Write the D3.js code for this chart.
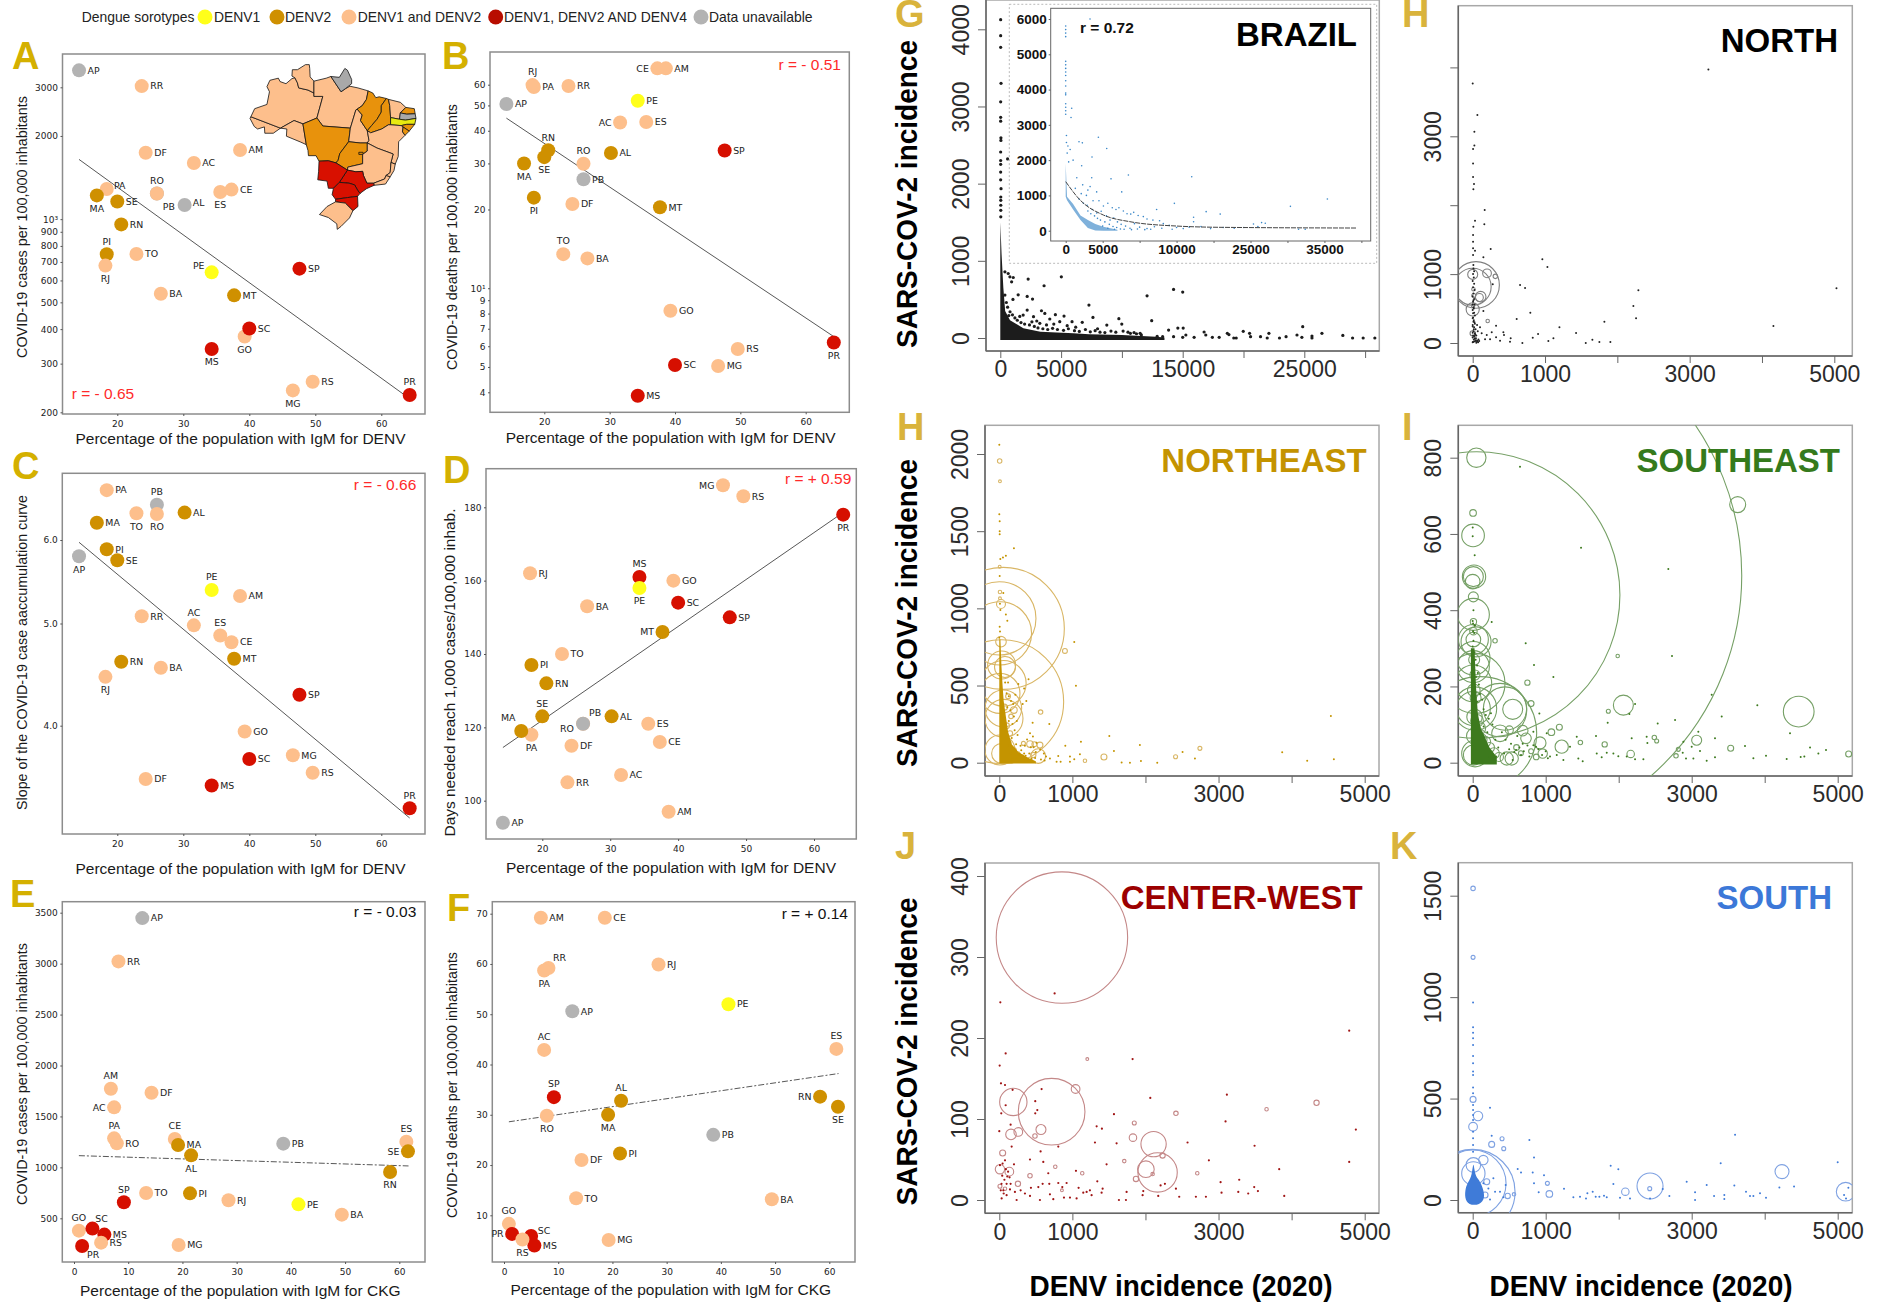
<!DOCTYPE html>
<html lang="en">
<head>
<meta charset="UTF-8">
<title>Dengue and COVID-19 in Brazil</title>
<script src="https://d3js.org/d3.v7.min.js"></script>
<style>
  html, body { margin: 0; background: #fff; }
  svg { display: block; }
  text { font-family: "Liberation Sans", Arial, sans-serif; }
  .mpl text { font-family: "DejaVu Sans", sans-serif; font-size: 9px; fill: #222; }
  .mpl text.state { font-size: 9.4px; }
  .rplot text { font-size: 23px; fill: #2b2b2b; }
  .inset text { font-size: 13.5px; font-weight: bold; fill: #111; }
</style>
</head>
<body>
<div id="vis"></div>
<script>
// ---- state level values, all arrays follow the order of stateCodes
const stateCodes = ["AP","RR","DF","AC","AM","PA","MA","SE","PB","RO","ES","CE","AL","RN","PI","RJ","TO","BA","PE","MT","SP","GO","SC","MS","RS","MG","PR"];
const sorotypes  = ["na","both","both","both","both","both","d2","d2","na","both","both","both","d2","d2","d2","both","both","both","d1","d2","d124","both","d124","d124","both","both","d124"];
const igmDenv    = [14.2,23.7,24.3,31.6,38.6,18.4,16.9,20,26,26,35.6,37.3,30.2,20.6,18.4,18.2,22.9,26.6,34.3,37.7,47.6,39.3,40,34.3,49.6,46.6,64.3];
const igmCkgE    = [12.6,8.2,14.3,7.4,6.8,7.4,19.2,61.6,38.6,7.9,61.3,18.6,21.6,58.3,21.4,28.5,13.3,49.4,41.4,37.7,9.2,0.9,3.4,5.6,5,19.3,1.5];
const igmCkgF    = [12.6,8.2,14.3,7.4,6.8,7.4,19.2,61.6,38.6,7.9,61.3,18.6,21.6,58.3,21.4,28.5,13.3,49.4,41.4,37.7,9.2,0.9,5,5.6,3.4,19.3,1.5];
const casesDenv  = [3455,3030,1739,1596,1780,1285,1219,1159,1239,1239,1254,1279,1125,957,746,679,748,537,642,530,662,376,402,339,258,240,231];
const deathsDenv = [50.6,59.3,21,43,69.3,58.8,30,31.7,26.1,29.9,43.2,69.3,32.9,33.7,22.2,59.8,13.5,13,52.1,20.4,33.6,8.2,5.09,3.88,5.86,5.04,6.2];
const slopeDenv  = [5.79,5.08,3.56,4.98,5.31,6.69,6.23,5.74,6.48,6.35,4.87,4.80,6.37,4.60,5.88,4.45,6.36,4.54,5.38,4.63,4.28,3.95,3.72,3.51,3.61,3.75,3.34];
const daysDenv   = [94,105,115,107,97,118,119,123,121,121,121,116,123,132,137,162,140,153,158,146,150,160,154,161,183,186,178];
const casesCkg   = [3447,3022,1733,1589,1772,1285,1220,1157,1233,1236,1252,1279,1118,955,745,677,749,536,637,null,657,379,399,340,261,238,228];
const deathsCkg  = [50.6,59.2,21,42.9,69.2,58.7,30,31.6,26,29.8,43.1,69.2,32.8,33.6,22.3,59.9,13.4,13.2,52,null,33.5,8.3,5.9,4,5.2,5.1,6.3];

// trend lines as [x, y] read at both ends
const trendA = [[14.2,1645],[64.3,224]];
const trendB = [[14.2,44.7],[64.3,6.53]];
const trendC = [[14.2,5.97],[64.3,3.27]];
const trendD = [[14.2,114.5],[64.3,178.6]];
const trendE = [[0.9,1115],[61.7,1014]];
const trendF = [[0.9,28.6],[61.7,38.2]];

const legendItems = [["d1","DENV1"],["d2","DENV2"],["both","DENV1 and DENV2"],["d124","DENV1, DENV2 AND DENV4"],["na","Data unavailable"]];

// ---- map of Brazil, rough state outlines in lon/lat
const mapClass = {AM:"both",RR:"both",AP:"na",PA:"both",AC:"both",RO:"both",MT:"d2map",TO:"both",MA:"d2map",PI:"d2map",CE:"both",RN:"d2map",PB:"na",PE:"d1",AL:"d2map",SE:"d2map",BA:"both",GO:"d2map",DF:"d2map",MG:"both",ES:"both",RJ:"both",SP:"d124",MS:"d124",PR:"d124",SC:"d124",RS:"both"};
const mapOutlines = {
  AC:[[-73.8,-7.1],[-66.8,-9.8],[-68.5,-11],[-70.5,-11],[-70.6,-9.5],[-72.2,-10],[-73,-9.4],[-74,-7.5]],
  AM:[[-73.8,-7.1],[-72.9,-5.2],[-70,-4.2],[-69.4,-1.2],[-70,0],[-69.3,1.5],[-67.3,2],[-66.9,1.2],[-65.5,0.7],[-64.1,1.9],[-63.4,2.1],[-62.8,0.9],[-62.5,-0.3],[-60.3,-0.8],[-58.9,-1.5],[-58.9,-2.3],[-56.8,-2.3],[-58.2,-7.4],[-61.5,-8.8],[-63.6,-8],[-66.8,-9.8]],
  RO:[[-66.8,-9.8],[-63.6,-8],[-61.5,-8.8],[-60.7,-13.7],[-62,-13.1],[-65.4,-11.7],[-65.3,-10]],
  RR:[[-63.4,2.1],[-64.1,2.5],[-64,4],[-62.8,4],[-60.9,5.2],[-60,5.2],[-59.9,4.3],[-59.8,2.3],[-58.9,1.3],[-58.9,-1.5],[-60.3,-0.8],[-62.5,-0.3],[-62.8,0.9]],
  PA:[[-58.9,-2.3],[-56.8,-2.3],[-58.2,-7.4],[-56.8,-9.3],[-50.3,-9.8],[-49,-5.5],[-48.7,-5.3],[-47.5,-4.5],[-46.5,-3],[-46.1,-1],[-48.5,-0.3],[-50.4,0.1],[-51.5,-0.5],[-52.5,-1.2],[-54.9,2.4],[-56,2],[-58.9,1.3]],
  AP:[[-54.9,2.4],[-52.9,2.2],[-51.6,4.3],[-51,3.9],[-50,1.7],[-50,0.7],[-51.5,-0.5],[-52.5,-1.2]],
  MT:[[-58.2,-7.4],[-56.8,-9.3],[-50.3,-9.8],[-50.7,-13],[-52.8,-15.8],[-53.2,-17.4],[-53.7,-18],[-55.5,-17.5],[-57.7,-17.6],[-58.4,-16.3],[-60.2,-16.3],[-60.3,-15.1],[-60.7,-13.7],[-61.5,-8.8]],
  TO:[[-50.3,-9.8],[-49,-5.5],[-48.7,-5.3],[-47.5,-6.7],[-47.9,-8],[-46.3,-10.4],[-45.9,-12.7],[-46.3,-13.3],[-48,-13.3],[-50.7,-13]],
  MA:[[-46.1,-1],[-46.5,-3],[-47.5,-4.5],[-48.7,-5.3],[-47.5,-6.7],[-47.9,-8],[-46.3,-10.4],[-45.3,-9.2],[-44,-7.7],[-43,-6],[-43,-4.5],[-41.8,-2.8],[-43.5,-2.4],[-44.3,-2.6],[-45,-1.5]],
  PI:[[-41.8,-2.8],[-41.3,-3],[-41,-4.5],[-40.8,-7.3],[-40.8,-9],[-41.3,-9],[-42.9,-10],[-45.5,-10.9],[-46.3,-10.4],[-45.3,-9.2],[-44,-7.7],[-43,-6],[-43,-4.5]],
  CE:[[-41.3,-3],[-38.5,-3.7],[-37.2,-4.9],[-38.5,-6.2],[-38.7,-7.7],[-40.8,-7.3],[-41,-4.5]],
  RN:[[-37.2,-4.9],[-35.2,-5.2],[-35,-6.4],[-37,-6.5],[-38.5,-6.2]],
  PB:[[-38.5,-6.2],[-37,-6.5],[-35,-6.4],[-34.8,-7.5],[-37.3,-7.9],[-38.7,-7.7]],
  PE:[[-40.8,-7.3],[-38.7,-7.7],[-37.3,-7.9],[-34.8,-7.5],[-35.1,-8.9],[-37,-8.9],[-38.3,-9.2],[-40.8,-9]],
  AL:[[-35.1,-8.9],[-36.4,-10.5],[-37.9,-9.5],[-38.3,-9.2],[-37,-8.9]],
  SE:[[-36.4,-10.5],[-37.4,-11.5],[-38,-10.7],[-37.9,-9.5]],
  BA:[[-45.5,-10.9],[-42.9,-10],[-41.3,-9],[-40.8,-9],[-38.3,-9.2],[-37.9,-9.5],[-38,-10.7],[-37.4,-11.5],[-38.9,-13],[-39,-16.5],[-39.7,-18.3],[-40.7,-17.9],[-40.2,-15.9],[-44,-14.5],[-46.3,-13.3],[-45.9,-12.7],[-46.3,-10.4]],
  GO:[[-46.3,-13.3],[-48,-13.3],[-50.7,-13],[-52.8,-15.8],[-53.2,-17.4],[-53.7,-18],[-51,-19.7],[-50.9,-19],[-47.4,-18.2],[-47.4,-16],[-46.3,-15.2]],
  DF:[[-48.3,-15.5],[-47.3,-15.5],[-47.3,-16],[-48.3,-16]],
  MG:[[-44,-14.5],[-40.2,-15.9],[-40.7,-17.9],[-40.9,-20.3],[-41.9,-21],[-42.2,-21.8],[-44.8,-22.8],[-46.4,-22.8],[-47.2,-21],[-47.4,-20],[-49,-20.1],[-51,-19.7],[-50.9,-19],[-47.4,-18.2],[-47.4,-16],[-46.3,-15.2],[-46.3,-13.3]],
  ES:[[-40.7,-17.9],[-39.7,-18.3],[-40,-19.8],[-40.9,-21.3],[-41.9,-21],[-40.9,-20.3]],
  RJ:[[-41.9,-21],[-40.9,-21.3],[-42,-23],[-44.7,-23.3],[-44.8,-22.8],[-42.2,-21.8]],
  SP:[[-51,-19.7],[-49,-20.1],[-47.4,-20],[-47.2,-21],[-46.4,-22.8],[-44.8,-22.8],[-44.7,-23.3],[-46.5,-24.1],[-48,-25.2],[-48.5,-24.6],[-49.3,-23.2],[-50.6,-22.8],[-52.9,-22.6]],
  MS:[[-53.7,-18],[-51,-19.7],[-52.9,-22.6],[-54.3,-24],[-55.5,-24],[-55.8,-22.3],[-58,-22],[-57.8,-20],[-57.7,-17.6],[-55.5,-17.5]],
  PR:[[-52.9,-22.6],[-50.6,-22.8],[-49.3,-23.2],[-48.5,-24.6],[-48,-25.2],[-48.6,-25.9],[-51,-26.2],[-53.8,-26.6],[-54.6,-25.5],[-54.3,-24]],
  SC:[[-53.8,-26.6],[-51,-26.2],[-48.6,-25.9],[-48.5,-28.3],[-49.7,-29.3],[-51.5,-27.5],[-53.8,-27.2]],
  RS:[[-53.8,-27.2],[-51.5,-27.5],[-49.7,-29.3],[-50.5,-31],[-52.5,-33],[-53.4,-33.7],[-53.5,-32.4],[-55.5,-30.9],[-57.6,-30.2],[-55.8,-28.3]]
};

// ---- municipality level values [DENV incidence, SARS-COV-2 incidence].
// bubbles have a third column, relative size
const brazilDots = [[30,4125],[30,3918],[30,3767],[60,3300],[30,3060],[30,2860],[30,2810],[50,2595],[50,2560],[30,2410],[30,2300],[30,2250],[30,2150],[30,2050],[60,1935],[40,1827],[40,1784],[40,1720],[40,1655],[40,1570],[600,2320],[930,1200],[1040,1095],[2130,1043],[380,858],[650,836],[790,793],[1065,784],[930,728],[2290,763],[5020,793],[3600,677],[380,556],[1470,560],[2210,539],[2650,504],[1040,500],[14250,629],[15000,595],[12070,547],[7290,427],[2210,362],[3385,353],[3660,319],[4530,302],[5240,284],[2730,276],[1880,297],[7620,267],[9750,250],[12450,224],[4070,246],[4890,211],[5900,211],[6740,203],[8760,168],[9990,181],[3250,190],[14600,129],[15040,129],[13840,103],[24870,147],[26450,60],[19980,86],[20500,60],[22090,60],[24400,39],[25630,26],[18670,60],[16760,78],[28170,34],[20580,17],[21400,17],[21950,0],[22960,0],[23500,17],[24800,9],[25630,0],[28970,0],[29840,0],[30800,0],[19200,0],[19400,0],[18000,9],[17440,9],[15940,9],[15000,9],[14250,17],[13350,17],[15260,39],[16900,39],[18800,45],[10700,60],[11200,55],[11600,40],[12900,20],
  [500,460],[600,400],[800,340],[1000,300],[1200,260],[1400,230],[700,290],[1700,200],[2000,180],[2400,170],[2800,150],[3100,130],[3500,120],[3900,110],[4300,125],[4700,110],[5200,100],[5600,120],[6100,95],[6500,85],[7000,110],[7400,80],[7800,95],[8200,75],[8600,70],[9100,90],[9500,75],[10100,90],[10500,75],[11000,70],[11500,60],[1600,280],[2600,210],[3000,220],[3800,170],[4400,180],[5500,160],[6200,140],[8000,120]];
// solid mass near the origin where single points can not be read
const brazilCloud = [[0,1500],[100,1100],[250,650],[400,350],[800,230],[1900,125],[3300,82],[6000,60],[7300,48],[10000,40],[12800,15],[13500,5]];

const insetDots = [[3290,6000],[0,5800],[0,5700],[0,5600],[0,5500],[0,4800],[0,4700],[0,4600],[0,4500],[0,4400],[0,4250],[0,4100],[0,3900],[0,3850],[0,3600],[0,3500],[0,3400],[0,3300],[810,3470],[720,3210],[1800,2520],[2250,2490],[4420,2650],[5550,2330],[3560,2090],[2160,1840],[8480,1580],[17050,1530],[6130,1470],[3520,1500],[35400,900],[30400,690],[14700,775],[7580,1100],[3300,1250],[4190,1100],[12300,600],[19000,540],[20900,470],[17300,380],[17300,255],[26500,230],[27000,210],[25400,190],[31500,40],[32400,40],[100,2700],[100,2500],[300,2400],[600,2300],[200,2200],[1000,2000],[400,1950],[1500,1500],[2300,1300],[2800,1000],[3000,1150],[3700,850],[4500,850],[5100,700],[5700,780],[6300,650],[6800,600],[7200,650],[7800,560],[8300,480],[8800,470],[9200,520],[9800,430],[10500,400],[11000,330],[11800,300],[12700,280],[13200,200],[14000,150],[15000,90],[15900,60],[16700,100],[18300,120],[19600,60],[21300,90],[22800,70],[24100,90],[26000,120],[3600,600],[4200,500],[4800,550],[5500,420],[6000,300],[6500,360],[7000,250],[7500,180],[8100,130],[8700,70],[9300,200],[10000,100],[11000,60],[12000,110],[13000,70],[14400,40],[5000,130],[5700,70],[6600,40],[7400,50],[3000,560],[2400,780],[1800,900],[1300,1200],[5300,250],[5900,180],[6400,120],[6900,90],[7900,40],[8900,30],[9700,50],[10700,30],[11500,40],[4700,300],[4300,350],[3900,420],[3400,480],[2900,720],[2100,1050]];
// dense sweep of the inset: x, lower edge, upper edge
const insetCloud = [[0,965,1900],[180,860,965],[1000,600,760],[2000,300,430],[3000,80,300],[4000,5,190],[5100,0,115],[7000,0,30]];
const insetTrend = [[0,1390],[1940,870],[5100,444],[8700,255],[15000,132],[21350,95],[39400,76]];

const northDots = [[3259,3971],[5030,793],[2291,764],[2222,537],[4158,247],[0,3768],[65,3308],[23,3067],[23,2868],[5,2815],[5,2607],[5,2409],[18,2307],[9,2230],[166,1930],[32,1775],[161,1722],[9,1688],[5,1567],[5,1470],[5,1374],[32,1340],[249,1364],[148,1243],[5,1277],[9,1132],[655,842],[724,798],[1033,1103],[963,1214],[797,440],[608,348],[277,851],[148,464],[323,252],[424,155],[433,116],[830,77],[904,131],[1116,68],[1429,145],[1655,48],[1752,15],[1904,15],[1199,227],[1821,310],[2259,358],[1563,0],[1046,29],[687,0],[525,68],[516,19],[194,116],[171,53],[240,53],[263,155],[124,140],[101,227],[65,34],[323,82],[378,34],
  [10,1080],[20,1040],[5,1000],[15,950],[0,900],[20,860],[5,810],[25,770],[10,720],[0,680],[20,640],[5,600],[25,560],[10,520],[0,480],[20,440],[30,400],[5,370],[15,330],[25,300],[0,260],[20,230],[40,200],[10,170],[30,140],[5,110],[25,90],[45,70],[15,50],[35,30],[5,15],[60,20],[80,50],[50,110],[70,170],[60,260],[0,360],[10,310],[30,280],[0,240],[15,200],[0,150],[35,120],[20,100],[0,80],[30,60],[45,40],[20,20],[0,10],[50,5],[75,10],[90,30],[10,620],[0,560],[15,500],[5,430]];
const northBubbles = [[46,842,544],[0,817,340],[0,996,25],[198,1011,19],[313,967,5],[110,672,28],[92,660,16],[0,488,43],[0,140,7],[207,320,3],[10,780,3],[15,690,4],[5,540,3]];

const northeastDots = [[0,2060],[0,1610],[5,1565],[5,1500],[5,1480],[5,1210],[14,1320],[50,1330],[90,1340],[200,1390],[55,1100],[9,1030],[90,960],[110,920],[1026,782],[1049,499],[456,259],[684,250],[1505,173],[1117,136],[1924,114],[1569,76],[1674,2],[1788,0],[1938,11],[2161,0],[2508,69],[2677,28],[3871,67],[4213,13],[4578,22],[4537,302],[903,110],[807,43],[693,28],[839,6],[784,6],[967,40],[1026,22],[1103,55],[967,6],[5,880],[10,850],[0,810],[15,990],[260,510],[220,440],[340,480],[400,540],[320,380],[370,400],[420,190],[460,170],[380,150],[470,100],[510,130],[350,110],[300,80],[410,60],[440,25],[500,70],[560,85],[610,60],[640,40],[330,30],[380,20],[280,50],
  [100,450],[130,430],[160,400],[190,380],[110,360],[150,340],[80,520],[120,520],[200,300],[240,270],[180,250],[130,270],[210,210],[250,180],[170,160],[230,120],[290,110],[140,110],[190,90],[250,60],[220,30],[180,20],[150,60],[340,60],[360,45],[430,100],[490,30],[570,20],[620,15]];
const northeastBubbles = [[55,870,3721],[32,395,3844],[0,935,1344],[9,838,1000],[32,633,196],[78,620,110],[55,514,520],[9,449,400],[55,352,336],[64,287,361],[9,82,225],[32,60,100],[23,1028,20],[23,784,28],[898,724,6],[565,328,5],[200,341,11],[146,190,7],[533,43,54],[556,114,9],[1432,37,9],[2412,39,4],[2745,93,4],[1172,13,3],[5,1955,5],[9,1823,2],[5,1270,2],[9,1106,3],[9,1065,2],[420,121,11],[330,125,4],[465,50,7],[260,60,3],[310,40,3],[480,120,6],[120,430,6],[70,360,9],[160,300,5],[100,240,8],[60,160,8],[130,130,5],[200,80,6],[110,50,12],[240,30,6],[170,15,6]];
const northeastCloud = [[0,800],[15,800],[30,620],[45,500],[60,400],[90,300],[120,200],[170,120],[260,70],[400,30],[500,10]];

const southeastDots = [[2680,508],[2730,280],[0,617],[0,594],[27,544],[260,369],[726,313],[648,776],[1484,564],[840,256],[1105,225],[3274,178],[3411,121],[3899,151],[2224,154],[2146,128],[2772,112],[2534,103],[1849,105],[4347,77],[4621,40],[4840,33],[4735,24],[4543,16],[4493,15],[4301,10],[3845,12],[4018,18],[3730,44],[3319,64],[3319,14],[3205,5],[3114,31],[3023,11],[2922,11],[2877,26],[2886,55],[3091,81],[3000,42],[2383,68],[2393,52],[2178,64],[2338,9],[2224,9],[2110,16],[1995,17],[1927,24],[1836,26],[1699,24],[1767,14],[1689,70],[1425,68],[1333,42],[1447,11],[1507,4],[1242,7],[1059,16],[913,129],[831,81],[1014,77],[1151,20],[831,46],[685,50],[594,33],[548,7],[430,24],[776,16],[867,42],[662,20],[525,50],[570,28],[320,16],[228,15],[310,60],[400,80],[250,130],[30,360],[10,400],[20,340],
  [0,372],[5,365],[5,345],[25,360],[10,320],[0,305],[25,290],[40,270],[60,255],[70,235],[45,225],[85,205],[100,180],[130,165],[60,160],[150,140],[180,125],[220,115],[270,100],[150,95],[200,80],[350,40],[450,60],[500,35],[610,70],[640,40],[700,30],[750,45],[900,35],[950,20],[1000,30],[1030,12]];
const southeastBubbles = [[32,491,71111],[55,440,20500],[100,77,3211],[50,800,93],[3630,677,64],[5,655,11],[5,596,128],[18,488,136],[9,488,100],[0,475,53],[9,435,25],[9,389,256],[9,323,225],[46,317,225],[9,323,54],[9,274,278],[9,252,256],[9,208,336],[32,208,900],[9,142,289],[32,142,469],[548,140,100],[443,142,469],[374,138,711],[9,20,100],[32,24,178],[749,210,7],[799,155,9],[306,320,5],[2064,151,100],[4466,134,236],[3068,59,25],[1219,42,44],[922,52,36],[1078,80,11],[1187,93,9],[1858,135,4],[1475,53,5],[1808,48,7],[2164,23,14],[2488,66,5],[2520,57,4],[3534,38,9],[5150,23,9],[1986,280,3],[502,86,16],[685,84,28],[730,64,28],[374,77,69],[466,11,44],[534,11,44],[959,24,22],[2785,18,5],[2817,35,4],[10,370,10],[10,345,14],[20,270,30],[30,230,25],[15,190,40],[40,170,30],[25,120,60],[60,110,40],[80,90,50],[30,70,70],[110,60,40],[170,55,30],[230,40,25],[290,25,30],[360,15,20],[600,40,8],[660,25,6],[800,30,6],[870,15,8]];
const southeastCloud = [[-25,300],[25,300],[45,200],[70,130],[110,90],[160,70],[230,40],[330,15]];

const centerWestDots = [[757,255],[14,244],[87,181],[5,166],[1824,174],[4788,209],[4879,87],[4788,47],[3830,38],[3493,67],[3899,5],[3114,130],[3096,97],[2576,71],[2868,49],[2066,126],[1569,106],[1605,70],[1309,71],[1332,91],[1404,88],[1468,44],[1341,23],[807,66],[565,60],[602,47],[420,50],[23,144],[78,142],[182,136],[579,137],[492,122],[520,111],[492,107],[87,117],[27,107],[0,85],[155,93],[169,66],[3028,22],[3041,9],[3283,25],[3270,10],[3406,8],[3488,16],[3539,11],[2827,4],[2690,4],[2462,4],[2417,14],[2266,20],[2207,18],[2175,5],[1970,11],[1961,6],[1742,10],[1733,0],[1637,0],[1414,14],[1400,9],[1263,6],[1240,12],[1195,10],[1149,9],[1085,15],[1049,36],[1058,2],[967,3],[885,3],[807,21],[862,16],[921,21],[684,20],[593,20],[670,33],[693,7],[739,1],[556,0],[534,16],[433,15],[420,5],[351,8],[292,12],[237,0],[214,10],[146,13],[201,44],[78,49],[109,29],[32,2],[100,6],[55,12],[9,43],[155,20],[100,20],[40,30],[70,25],[120,35],[60,8],[30,20],[90,38],[140,28],[20,12],[45,45]];
const centerWestBubbles = [[857,324,4316],[716,109,1111],[192,121,187],[2111,69,160],[2166,34,387],[2006,38,69],[1044,137,19],[570,87,25],[260,84,19],[160,81,28],[488,79,5],[46,58,9],[9,38,22],[137,35,19],[255,20,7],[420,30,5],[4341,120,7],[2417,107,5],[1847,95,4],[1829,77,14],[1870,26,7],[2234,55,7],[1710,48,3],[2709,33,3],[3657,112,3],[1204,174,2],[766,41,3],[1135,33,3],[2098,32,3],[9,17,4],[78,14,3],[857,12,2]];

const southDots = [[5,974],[5,851],[5,825],[5,797],[5,764],[5,710],[5,674],[5,633],[5,616],[5,555],[5,526],[5,468],[5,444],[5,419],[5,394],[5,337],[5,304],[5,271],[5,238],[237,455],[260,317],[776,296],[840,210],[616,153],[662,135],[822,136],[840,82],[904,38],[977,122],[1251,56],[1379,13],[1470,16],[1552,8],[1571,33],[1644,41],[1685,16],[1735,16],[1799,21],[1836,13],[1890,169],[1995,151],[1927,79],[2018,11],[2155,8],[2429,8],[2603,54],[2694,20],[2931,90],[3046,38],[3046,0],[3205,74],[3306,20],[3447,25],[3447,5],[3397,181],[3594,322],[3584,71],[3744,41],[3799,20],[3845,20],[3936,33],[4018,11],[4201,62],[4402,66],[5000,186],[5087,25],[5114,8],[5146,61],[452,74],[420,13],[237,3],[283,107],[374,41],[306,41],[215,57],[146,82]];
const southBubbles = [[0,41,1792],[0,82,1111],[9,131,136],[9,173,53],[146,197,22],[73,414,22],[5,361,19],[5,496,9],[5,1536,5],[5,1196,4],[260,274,9],[402,302,4],[425,253,4],[479,20,7],[566,28,3],[1023,82,4],[1050,30,11],[2091,41,14],[2429,69,169],[2425,56,4],[4237,140,49],[5109,41,87],[192,90,9],[169,25,9]];
const southCloud = [[-110,10],[-100,60],[-60,90],[-10,120],[10,200],[30,120],[90,100],[140,60],[170,10],[100,-25],[-60,-25]];

const regionTicks = [0,1000,2000,3000,4000,5000];
const regionLabels = [0,1000,3000,5000];

// ---- page
const width = 1881, height = 1303;
const svg = d3.select("#vis").append("svg").attr("width", width).attr("height", height);
const defs = svg.append("defs");

const dotColor = {d1:"#ffff1a", d2:"#cf9000", both:"#fdbf8c", d124:"#d60f00", na:"#b3b3b3"};
const gold = "#d4b000";
const rGold = "#d9b33c";

// legend
svg.append("text").attr("x", 81.7).attr("y", 22).attr("font-size", 13.9).attr("fill", "#222").text("Dengue sorotypes");
const legendDotX = [205, 277, 349, 495.7, 701];
const legendTextX = [214, 285, 357.7, 504, 709];
legendItems.forEach(function(d, i) {
    svg.append("circle").attr("cx", legendDotX[i]).attr("cy", 17).attr("r", 7.5).attr("fill", d[0] == "d124" ? "#b80d00" : dotColor[d[0]]);
    svg.append("text").attr("x", legendTextX[i]).attr("y", 22).attr("font-size", 13.9).attr("fill", "#222").text(d[1]);
});

function panelLetter(s, x, y, color) {
    svg.append("text").attr("x", x).attr("y", y).attr("font-size", 38).attr("font-weight", "bold").attr("fill", color).text(s);
}

// label position: r l t b, or explicit [dx, dy]
function placeLabel(sel, d, pos) {
    var dx = 0, dy = 0, anchor = "middle";
    if (pos == "r") { dx = 8.5; anchor = "start"; }
    else if (pos == "l") { dx = -8.5; anchor = "end"; }
    else if (pos == "t") { dy = -13; }
    else if (pos == "b") { dy = 13; }
    else { dx = pos[0]; dy = pos[1]; }
    sel.attr("x", dx).attr("y", dy).attr("dy", ".35em").attr("text-anchor", anchor);
}

function scatterPanel(c) {
    const f = c.frame;
    const g = svg.append("g").attr("class", "mpl");
    g.append("rect").attr("x", f[0]).attr("y", f[1]).attr("width", f[2] - f[0]).attr("height", f[3] - f[1])
        .attr("fill", "#fff").attr("stroke", "#8c8c8c").attr("stroke-width", 1.5);

    const x = d3.scaleLinear().domain(c.xDomain).range(c.xRange);
    const y = (c.log ? d3.scaleLog() : d3.scaleLinear()).domain(c.yDomain).range(c.yRange);

    const xAxis = d3.axisBottom(x).tickValues(c.xTicks).tickSize(2).tickPadding(4.5).tickSizeOuter(0);
    const yAxis = d3.axisLeft(y).tickValues(c.yTicks).tickSize(2).tickPadding(2.5).tickSizeOuter(0).tickFormat(c.yFormat || (d => d));
    g.append("g").attr("transform", "translate(0," + f[3] + ")").call(xAxis).call(a => a.select(".domain").remove());
    g.append("g").attr("transform", "translate(" + f[0] + ",0)").call(yAxis).call(a => a.select(".domain").remove());
    g.selectAll(".tick line").attr("stroke", "#555");
    g.selectAll(".tick text").attr("font-family", "DejaVu Sans").attr("font-size", 9).attr("fill", "#222");

    if (c.map) drawMap(g);

    const line = d3.line().x(d => x(d[0])).y(d => y(d[1]));
    g.append("path").attr("d", line(c.trend)).attr("fill", "none").attr("stroke", "#444").attr("stroke-width", 0.9)
        .attr("stroke-dasharray", c.dash || null);

    const rows = stateCodes.map(function(s, i) {
        return {s: s, x: c.xs[i], y: c.ys[i], cls: (c.classOverride && c.classOverride[s]) || sorotypes[i], i: i};
    }).filter(d => d.y != null && d.x != null);
    const front = c.front || [];
    rows.sort((a, b) => (front.indexOf(a.s) >= 0) - (front.indexOf(b.s) >= 0) || a.i - b.i);

    const pts = g.selectAll(".pt").data(rows).enter().append("g").attr("class", "pt")
        .attr("transform", d => "translate(" + x(d.x) + "," + y(d.y) + ")");
    pts.append("circle").attr("r", 7).attr("fill", d => dotColor[d.cls]);
    pts.append("text").attr("class", "state").text(d => d.s).each(function(d) {
        placeLabel(d3.select(this), d, c.labels[d.s] || "r");
    });

    // titles
    g.append("text").attr("x", c.xTitle[1]).attr("y", c.xTitle[2]).attr("text-anchor", "middle")
        .style("font-family", "Liberation Sans").style("font-size", "15.5px").style("fill", "#1a1a1a").text(c.xTitle[0]);
    g.append("text").attr("transform", "translate(" + c.yTitle[1] + "," + c.yTitle[2] + ") rotate(-90)").attr("text-anchor", "middle")
        .attr("textLength", c.yTitle[3]).attr("lengthAdjust", "spacingAndGlyphs")
        .style("font-family", "Liberation Sans").style("font-size", "14.6px").style("fill", "#1a1a1a").text(c.yTitle[0]);
    g.append("text").attr("x", c.rText[1]).attr("y", c.rText[2]).attr("text-anchor", c.rText[3] || "end")
        .style("font-family", "Liberation Sans").style("font-size", "15.5px").style("fill", c.rColor).text(c.rText[0]);
}

function drawMap(g) {
    const features = Object.keys(mapOutlines).map(function(k) {
        const ring = mapOutlines[k].concat([mapOutlines[k][0]]);
        return {type: "Feature", id: k, geometry: {type: "Polygon", coordinates: [ring]}};
    });
    const fc = {type: "FeatureCollection", features: features};
    const projection = d3.geoIdentity().reflectY(true).fitExtent([[250, 62], [416, 232]], fc);
    const path = d3.geoPath(projection);
    const mapFill = Object.assign({}, dotColor, {d2map: "#e8920c", d124: "#d81000", na: "#a9a9a9", d1: "#e8ea10"});
    g.selectAll(".state-shape").data(features).enter().append("path").attr("class", "state-shape")
        .attr("d", path).attr("fill", d => mapFill[mapClass[d.id]]).attr("stroke", "#111").attr("stroke-width", 0.8).attr("stroke-linejoin", "round");
}

const pctDenvLabel = "Percentage of the population with IgM for DENV";
const pctCkgLabel = "Percentage of the population with IgM for CKG";
const denvXTicks = [20,30,40,50,60];
const ckgXTicks = [0,10,20,30,40,50,60];

scatterPanel({
    frame: [62.5,54,425,414], xDomain: [20,60], xRange: [117.3,381.3], log: true, yDomain: [200,3000], yRange: [412.3,87.3],
    xTicks: denvXTicks, yTicks: [200,300,400,500,600,700,800,900,1000,2000,3000], yFormat: d => d == 1000 ? "10³" : d,
    xs: igmDenv, ys: casesDenv, trend: trendA, map: true, classOverride: {AL: "na"},
    labels: {PA:[13,-3],MA:"b",RO:"t",ES:"b",AL:[14,-2],PB:[12,13],PI:"t",RJ:"b",PE:[-13,-7],GO:"b",MS:"b",MG:"b",PR:"t"},
    xTitle: [pctDenvLabel,240.5,444], yTitle: ["COVID-19 cases per 100,000 inhabitants",26.7,227,262],
    rText: ["r = - 0.65",71.7,398.7,"start"], rColor: "#ff2a2a"
});
scatterPanel({
    frame: [490,52,849.3,412.3], xDomain: [20,60], xRange: [544.3,805.7], log: true, yDomain: [4,60], yRange: [392.3,84.7],
    xTicks: denvXTicks, yTicks: [4,5,6,7,8,9,10,20,30,40,50,60], yFormat: d => d == 10 ? "10¹" : d,
    xs: igmDenv, ys: deathsDenv, trend: trendB, front: ["PB"],
    labels: {RJ:"t",CE:"l",AC:"l",RN:"t",SE:"b",MA:"b",RO:"t",PI:"b",TO:"t",PR:"b"},
    xTitle: [pctDenvLabel,670.7,442.7], yTitle: ["COVID-19 deaths per 100,000 inhabitants",456.7,237,266],
    rText: ["r = - 0.51",841,70], rColor: "#ff2a2a"
});
scatterPanel({
    frame: [62.3,473.3,425,834], xDomain: [20,60], xRange: [117.3,381.3], log: true, yDomain: [4,6], yRange: [725.7,540],
    xTicks: denvXTicks, yTicks: [4,5,6], yFormat: d3.format(".1f"),
    xs: igmDenv, ys: slopeDenv, trend: trendC,
    labels: {PB:"t",TO:"b",RO:"b",AP:"b",PE:"t",AC:"t",ES:"t",RJ:"b",PR:"t"},
    xTitle: [pctDenvLabel,240.5,874], yTitle: ["Slope of the COVID-19 case aaccumulation curve",26.7,652.5,315],
    rText: ["r = - 0.66",416.3,490], rColor: "#ff2a2a"
});
scatterPanel({
    frame: [486,468.7,856.3,839], xDomain: [20,60], xRange: [542.3,814], yDomain: [100,180], yRange: [800.7,507.3],
    xTicks: denvXTicks, yTicks: [100,120,140,160,180],
    xs: igmDenv, ys: daysDenv, trend: trendD, front: ["PB","PE"],
    labels: {MG:"l",PR:"b",MS:"t",PE:"b",MT:"l",SE:"t",PB:[12,-11],MA:[-13,-13],PA:"b",RO:[-16,5]},
    xTitle: [pctDenvLabel,671,872.7], yTitle: ["Days needed reach 1,000 cases/100,000 inhab.",455,672.5,328],
    rText: ["r = + 0.59",851.3,484], rColor: "#ff2a2a"
});
scatterPanel({
    frame: [62.3,901.7,425,1262], xDomain: [0,60], xRange: [74,399.3], yDomain: [500,3500], yRange: [1218.3,912.7],
    xTicks: ckgXTicks, yTicks: [500,1000,1500,2000,2500,3000,3500],
    xs: igmCkgE, ys: casesCkg, trend: trendE, dash: "6 2 2 2", front: ["MA","SE"],
    labels: {AM:"t",AC:"l",PA:"t",CE:"t",AL:"b",ES:"t",SE:"l",RN:"b",SP:"t",GO:"t",SC:[9,-10],PR:[11,9]},
    xTitle: [pctCkgLabel,240.3,1296], yTitle: ["COVID-19 cases per 100,000 inhabitants",26.7,1074,262],
    rText: ["r = - 0.03",416.3,917.3], rColor: "#111"
});
scatterPanel({
    frame: [492.3,901.7,855,1262], xDomain: [0,60], xRange: [504,829.3], yDomain: [10,70], yRange: [1215.3,913.7],
    xTicks: ckgXTicks, yTicks: [10,20,30,40,50,60,70],
    xs: igmCkgF, ys: deathsCkg, trend: trendF, dash: "6 2 2 2", front: ["RS"],
    labels: {RR:[11,-10],PA:"b",AC:"t",ES:"t",SP:"t",AL:"t",RN:"l",SE:"b",RO:"b",MA:"b",GO:"t",PR:"l",SC:[13,-5],RS:"b"},
    xTitle: [pctCkgLabel,670.8,1295], yTitle: ["COVID-19 deaths per 100,000 inhabitants",456.7,1085,266],
    rText: ["r = + 0.14",848,918.7], rColor: "#111"
});

panelLetter("A", 12, 69, gold);
panelLetter("B", 442, 69, gold);
panelLetter("C", 12, 479, gold);
panelLetter("D", 443, 483, gold);
panelLetter("E", 10, 907, gold);
panelLetter("F", 447, 921, gold);

// ---- regional R style plots
const bubbleRadius = d3.scaleSqrt().domain([0, 71111]).range([0, 266.7]);
var clipId = 0;

function regionPanel(c) {
    const f = c.frame;
    const g = svg.append("g").attr("class", "rplot");
    const id = "clip" + (clipId++);
    defs.append("clipPath").attr("id", id).append("rect").attr("x", f[0]).attr("y", f[1]).attr("width", f[2] - f[0]).attr("height", f[3] - f[1]);

    const x = d3.scaleLinear().domain(c.xDomain).range(c.xRange);
    const y = d3.scaleLinear().domain(c.yDomain).range(c.yRange);

    g.append("rect").attr("x", f[0]).attr("y", f[1]).attr("width", f[2] - f[0]).attr("height", f[3] - f[1])
        .attr("fill", "#fff").attr("stroke", "#a8a8a8").attr("stroke-width", 1.5);

    const xAxis = d3.axisBottom(x).tickValues(c.xTicks).tickSize(7).tickPadding(3).tickSizeOuter(0)
        .tickFormat(d => c.xLabels.indexOf(d) >= 0 ? d : "");
    const yAxis = d3.axisLeft(y).tickValues(c.yTicks).tickSize(8).tickSizeOuter(0)
        .tickFormat(d => c.yLabels.indexOf(d) >= 0 ? d : "");
    g.append("g").attr("transform", "translate(0," + f[3] + ")").call(xAxis)
        .call(a => a.select(".domain").attr("d", "M" + f[0] + ",0H" + f[2]).attr("stroke", "#666").attr("stroke-width", 1.5));
    g.append("g").attr("transform", "translate(" + f[0] + ",0)").call(yAxis)
        .call(a => a.select(".domain").attr("d", "M0," + f[1] + "V" + f[3]).attr("stroke", "#666").attr("stroke-width", 1.5))
        .call(a => a.selectAll("text").attr("transform", "rotate(-90)").attr("x", 0).attr("y", -17).attr("dy", 0).attr("text-anchor", "middle"));
    g.selectAll(".tick line").attr("stroke", "#666");
    g.selectAll(".tick text").attr("font-family", "Liberation Sans").attr("font-size", 23);

    const marks = g.append("g").attr("clip-path", "url(#" + id + ")");
    if (c.bubbles) {
        marks.selectAll(".bubble").data(c.bubbles).enter().append("circle").attr("class", "bubble")
            .attr("cx", d => x(d[0])).attr("cy", d => y(d[1])).attr("r", d => bubbleRadius(d[2]))
            .attr("fill", "none").attr("stroke", c.bubbleColor).attr("stroke-width", 1.1);
    }
    if (c.cloud) {
        const area = d3.area().x(d => x(d[0])).y0(y(c.cloudBase)).y1(d => y(d[1]));
        marks.append("path").attr("d", area(c.cloud)).attr("fill", c.color);
    }
    if (c.blob) {
        marks.append("path").attr("d", d3.line().x(d => x(d[0])).y(d => y(d[1])).curve(d3.curveBasisClosed)(c.blob)).attr("fill", c.color);
    }
    marks.selectAll(".dot").data(c.dots).enter().append("circle").attr("class", "dot")
        .attr("cx", d => x(d[0])).attr("cy", d => y(d[1])).attr("r", c.dotR || 1).attr("fill", c.color);

    if (c.title) {
        g.append("text").attr("x", c.title[1]).attr("y", c.title[2]).attr("text-anchor", "end")
            .style("font-size", "33px").style("font-weight", "bold").style("fill", c.titleColor).text(c.title[0]);
    }
    if (c.yTitle) {
        g.append("text").attr("transform", "translate(" + c.yTitle[0] + "," + c.yTitle[1] + ") rotate(-90)").attr("text-anchor", "middle")
            .attr("textLength", 308).attr("lengthAdjust", "spacingAndGlyphs")
            .style("font-size", "30px").style("font-weight", "bold").style("fill", "#000").text("SARS-COV-2 incidence");
    }
    if (c.xTitle) {
        g.append("text").attr("x", c.xTitle[0]).attr("y", c.xTitle[1]).attr("text-anchor", "middle")
            .attr("textLength", 303).attr("lengthAdjust", "spacingAndGlyphs")
            .style("font-size", "29px").style("font-weight", "bold").style("fill", "#000").text("DENV incidence (2020)");
    }
    return {g: g, x: x, y: y};
}

regionPanel({
    frame: [986,0,1379.3,351], xDomain: [0,25000], xRange: [1000.3,1304.3], yDomain: [0,4000], yRange: [338,29.3],
    xTicks: [0,5000,10000,15000,20000,25000,30000], xLabels: [0,5000,15000,25000],
    yTicks: [0,1000,2000,3000,4000], yLabels: [0,1000,2000,3000,4000],
    dots: brazilDots, dotR: 1.6, color: "#1c1c1c", cloud: brazilCloud, cloudBase: -25, yTitle: [917,194]
});

// inset of panel G
(function() {
    const inset = svg.append("g").attr("class", "inset");
    inset.append("rect").attr("x", 1009.3).attr("y", 4.3).attr("width", 367.4).attr("height", 259)
        .attr("fill", "#fff").attr("stroke", "#bbb").attr("stroke-dasharray", "2 2");
    inset.append("rect").attr("x", 1050.7).attr("y", 8.3).attr("width", 320).attr("height", 232.7)
        .attr("fill", "#fff").attr("stroke", "#666").attr("stroke-width", 1);
    const x = d3.scaleLinear().domain([0,25000]).range([1065.7,1250.5]);
    const y = d3.scaleLinear().domain([0,6000]).range([230.7,19]);
    const xTickLabel = {0:"0",5000:"5000",15000:"10000",25000:"25000",35000:"35000"};
    inset.append("g").attr("transform", "translate(0,241)")
        .call(d3.axisBottom(x).tickValues([0,5000,10000,15000,20000,25000,30000,35000,40000]).tickSize(2).tickPadding(1).tickSizeOuter(0).tickFormat(d => xTickLabel[d] || ""))
        .call(a => a.select(".domain").remove());
    inset.append("g").attr("transform", "translate(1050.7,0)")
        .call(d3.axisLeft(y).tickValues([0,1000,2000,3000,4000,5000,6000]).tickSize(2).tickPadding(2).tickSizeOuter(0).tickFormat(d3.format("d")))
        .call(a => a.select(".domain").remove());
    inset.selectAll(".tick text").attr("font-family", "Liberation Sans");
    inset.selectAll(".tick line").attr("stroke", "#666");
    inset.append("path").attr("d", d3.area().x(d => x(d[0])).y0(d => y(d[1])).y1(d => y(d[2]))(insetCloud))
        .attr("fill", "#3a87c8").attr("opacity", 0.65);
    inset.selectAll(".idot").data(insetDots).enter().append("circle").attr("class", "idot")
        .attr("cx", d => x(d[0])).attr("cy", d => y(d[1])).attr("r", 0.8).attr("fill", "#3a87c8");
    inset.append("path").attr("d", d3.line().x(d => x(d[0])).y(d => y(d[1])).curve(d3.curveMonotoneX)(insetTrend))
        .attr("fill", "none").attr("stroke", "#444").attr("stroke-width", 1).attr("stroke-dasharray", "5 1");
    inset.append("text").attr("x", 1080).attr("y", 33).style("font-size", "15.5px").text("r = 0.72");
    inset.append("text").attr("x", 1357).attr("y", 46).attr("text-anchor", "end").style("font-size", "33px").style("fill", "#000").text("BRAZIL");
})();

regionPanel({
    frame: [1458.3,5.7,1852.3,356], xDomain: [0,5000], xRange: [1472.7,1834.3], yDomain: [0,3000], yRange: [343,136.3],
    xTicks: regionTicks, xLabels: regionLabels, yTicks: [0,1000,2000,3000,4000], yLabels: [0,1000,3000],
    dots: northDots, bubbles: northBubbles, bubbleColor: "#808080", color: "#222",
    title: ["NORTH",1838,52], titleColor: "#000"
});
regionPanel({
    frame: [985,425.3,1379,776], xDomain: [0,5000], xRange: [999.3,1364.7], yDomain: [0,2000], yRange: [762.7,454],
    xTicks: regionTicks, xLabels: regionLabels, yTicks: [0,500,1000,1500,2000], yLabels: [0,500,1000,1500,2000],
    dots: northeastDots, bubbles: northeastBubbles, bubbleColor: "#d9b665", color: "#c49400", cloud: northeastCloud, cloudBase: -5,
    title: ["NORTHEAST",1366.7,471.7], titleColor: "#c49300", yTitle: [917,613]
});
regionPanel({
    frame: [1458.3,425.3,1852.3,776], xDomain: [0,5000], xRange: [1472.7,1837.7], yDomain: [0,800], yRange: [762.7,457.7],
    xTicks: regionTicks, xLabels: regionLabels, yTicks: [0,200,400,600,800], yLabels: [0,200,400,600,800],
    dots: southeastDots, bubbles: southeastBubbles, bubbleColor: "#76a066", color: "#3d7a1e", cloud: southeastCloud, cloudBase: -5,
    title: ["SOUTHEAST",1840,471.7], titleColor: "#357a1c"
});
regionPanel({
    frame: [985,863,1379,1213.3], xDomain: [0,5000], xRange: [999.3,1364.7], yDomain: [0,400], yRange: [1200,876],
    xTicks: regionTicks, xLabels: regionLabels, yTicks: [0,100,200,300,400], yLabels: [0,100,200,300,400],
    dots: centerWestDots, dotR: 1.1, bubbles: centerWestBubbles, bubbleColor: "#c48888", color: "#a01515",
    title: ["CENTER-WEST",1362.7,909], titleColor: "#9c0000", yTitle: [917,1051.5], xTitle: [1181,1296]
});
regionPanel({
    frame: [1458.3,862.7,1852.3,1212.7], xDomain: [0,5000], xRange: [1472.7,1837.7], yDomain: [0,1500], yRange: [1200,895.7],
    xTicks: regionTicks, xLabels: regionLabels, yTicks: [0,500,1000,1500], yLabels: [0,500,1000,1500],
    dots: southDots, bubbles: southBubbles, bubbleColor: "#7fa2e2", color: "#3f7bd8", blob: southCloud,
    title: ["SOUTH",1832,909], titleColor: "#3c78d8", xTitle: [1641,1296]
});

panelLetter("G", 895, 27, rGold);
panelLetter("H", 1402, 27, rGold);
panelLetter("H", 897, 440, rGold);
panelLetter("I", 1402, 440, rGold);
panelLetter("J", 895, 859, rGold);
panelLetter("K", 1390, 859, rGold);
</script>
</body>
</html>
